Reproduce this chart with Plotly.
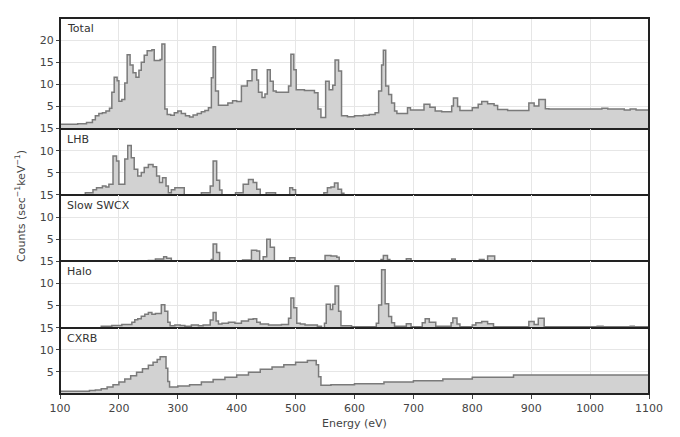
import plotly.graph_objects as go
from plotly.subplots import make_subplots

# ---- data: step histograms (left bin edges, value in each bin) ----
total_edges = [100, 130, 145, 155, 160, 166, 172, 178, 184, 188, 192, 197, 200, 205, 210, 214, 219, 224,
               229, 234, 238, 243, 248, 256, 260, 270, 273, 278, 282, 288, 294, 300, 306, 313, 320, 326,
               333, 340, 346, 352, 357, 360, 364, 369, 385, 393, 400, 408, 418, 426, 434, 437, 443, 448,
               452, 457, 462, 467, 488, 492, 497, 501, 515, 532, 538, 543, 551, 557, 563, 567, 573, 578,
               588, 600, 615, 625, 635, 641, 646, 649, 653, 658, 663, 668, 672, 690, 695, 718, 728, 737,
               748, 765, 768, 775, 779, 800, 810, 816, 826, 837, 843, 860, 896, 905, 913, 924, 930, 1020,
               1030, 1058, 1068, 1078]
total_vals = [1.0, 1.1, 1.4, 2.0, 2.9, 3.4, 3.6, 4.0, 4.6, 8.2, 11.6, 10.8, 6.2, 6.6, 10.3, 16.7, 14.4, 12.6,
              11.6, 13.2, 15.0, 16.6, 17.6, 17.8, 15.4, 15.6, 19.1, 4.4, 3.2, 3.0, 3.6, 4.0, 3.4, 2.9, 2.6, 3.1,
              3.4, 3.8, 4.1, 4.7, 11.5, 18.5, 8.5, 5.3, 5.8, 6.3, 6.1, 9.6, 10.8, 13.3, 11.0, 8.2, 7.0, 7.8,
              13.3, 10.7, 8.5, 8.2, 9.6, 16.8, 13.3, 8.8, 8.6, 8.1, 4.4, 2.5, 10.7, 8.8, 9.8, 15.5, 13.0, 2.9,
              2.7, 2.9, 3.0, 3.2, 3.6, 8.5, 14.4, 17.7, 9.6, 7.7, 5.8, 4.0, 3.4, 4.7, 4.2, 5.5, 4.8, 4.0,
              3.8, 5.1, 6.9, 5.0, 4.1, 4.7, 5.5, 6.1, 5.6, 5.2, 4.3, 4.1, 5.8, 5.1, 6.6, 4.5, 4.4, 4.6,
              4.4, 4.2, 4.4, 4.2]

lhb_edges = [100, 143, 156, 162, 172, 178, 183, 190, 196, 200, 210, 215, 221, 226, 232, 238, 243, 250, 258,
             264, 269, 274, 280, 284, 289, 295, 311, 340, 355, 360, 366, 371, 375, 398, 411, 420, 428, 434,
             440, 450, 466, 490, 495, 500, 548, 554, 560, 566, 572, 578, 582]
lhb_vals = [0, 0.5, 1.2, 1.6, 2.0, 1.8, 2.4, 8.8, 7.7, 2.4, 8.1, 11.2, 8.4, 5.8, 4.3, 5.1, 6.2, 6.9, 6.4,
            4.3, 2.8, 3.9, 2.0, 0.5, 1.2, 1.6, 0, 0.5, 2.0, 7.7, 3.3, 1.1, 0, 0.5, 2.4, 3.5, 2.8, 1.3,
            0, 0.5, 0, 1.6, 1.2, 0, 0.5, 1.6, 1.8, 2.7, 1.3, 0.4, 0]

swcx_edges = [100, 250, 262, 276, 281, 289, 357, 360, 366, 371, 410, 425, 434, 439, 445, 451, 457, 464,
              490, 499, 550, 560, 570, 574, 645, 649, 656, 660, 688, 696, 765, 771, 812, 820, 826, 838]
swcx_vals = [0, 0.2, 0.5, 1.0, 0.7, 0, 0.4, 3.9, 2.0, 0, 0.3, 2.5, 2.3, 0, 1.0, 5.0, 3.2, 0,
             0.8, 0, 1.3, 1.2, 0.9, 0, 0.4, 1.3, 0.4, 0, 0.6, 0, 0.5, 0, 0.4, 0, 1.2, 0]

halo_edges = [100, 170, 188, 205, 222, 227, 232, 238, 244, 250, 256, 262, 272, 278, 283, 287, 295, 304,
              312, 323, 335, 343, 355, 360, 365, 369, 375, 386, 397, 408, 420, 428, 434, 440, 454, 476,
              488, 492, 497, 502, 508, 516, 537, 544, 549, 552, 559, 563, 567, 573, 577, 595, 637, 641,
              646, 652, 658, 663, 668, 688, 696, 715, 720, 727, 738, 764, 767, 774, 779, 800, 806, 816,
              826, 836, 896, 905, 912, 922, 1012, 1022, 1068, 1075]
halo_vals = [0, 0.3, 0.5, 0.7, 1.2, 1.8, 2.0, 2.6, 3.0, 3.4, 3.0, 3.2, 5.2, 3.7, 1.2, 0.4, 0.6, 0.5,
             0.3, 0.6, 0.4, 0.6, 1.7, 3.4, 1.5, 0.8, 1.0, 1.2, 1.0, 1.5, 1.9, 2.0, 1.2, 0.8, 0.6, 0.7,
             2.1, 6.7, 4.5, 1.0, 0.8, 0.6, 0.3, 0, 1.0, 5.3, 4.1, 5.3, 9.4, 3.7, 0.4, 0.2, 1.0, 5.1,
             13.1, 5.4, 2.5, 1.1, 0.3, 0.9, 0.2, 1.1, 2.0, 1.2, 0.3, 1.1, 2.2, 0.8, 0.2, 0.6, 1.1, 1.4,
             0.9, 0.2, 1.4, 0.7, 2.1, 0.2, 0.3, 0.2, 0.3, 0.2]

cxrb_edges = [100, 130, 150, 160, 170, 180, 190, 200, 210, 220, 230, 240, 250, 258, 265, 270, 280, 283,
              286, 300, 320, 340, 360, 380, 400, 420, 440, 460, 480, 500, 520, 535, 539, 543, 560, 600,
              650, 700, 750, 800, 870]
cxrb_vals = [0.6, 0.65, 0.8, 0.9, 1.2, 1.6, 2.1, 2.7, 3.4, 4.1, 4.9, 5.7, 6.5, 7.2, 7.8, 8.4, 5.8, 2.8,
             1.6, 1.8, 2.1, 2.7, 3.3, 3.8, 4.3, 4.9, 5.6, 6.1, 6.6, 7.2, 7.6, 6.6, 3.9, 2.0, 2.1, 2.3,
             2.7, 3.0, 3.4, 3.8, 4.3]

panel_names = ["Total", "LHB", "Slow SWCX", "Halo", "CXRB"]
panel_edges = [total_edges, lhb_edges, swcx_edges, halo_edges, cxrb_edges]
panel_vals = [total_vals, lhb_vals, swcx_vals, halo_vals, cxrb_vals]
panel_ymax = [25, 15, 15, 15, 15]
panel_ticks = [[5, 10, 15, 20], [5, 10, 15], [5, 10, 15], [5, 10, 15], [5, 10, 15]]
x_ticks = [100, 200, 300, 400, 500, 600, 700, 800, 900, 1000, 1100]
X_MAX = 1100

fig = make_subplots(rows=5, cols=1, shared_xaxes=True, vertical_spacing=0,
                    row_heights=panel_ymax)

FONT = "DejaVu Sans"
for i, (name, edges, vals) in enumerate(zip(panel_names, panel_edges, panel_vals)):
    xs = list(edges) + [X_MAX]
    ys = list(vals) + [vals[-1]]
    fig.add_trace(go.Scatter(x=xs, y=ys, mode="lines", line_shape="hv",
                             line=dict(color="#7a7a7a", width=1.5),
                             fill="tozeroy", fillcolor="#d2d2d2",
                             showlegend=False, hoverinfo="skip"),
                  row=i + 1, col=1)
    fig.update_yaxes(range=[0, panel_ymax[i]], tickvals=panel_ticks[i],
                     showgrid=True, gridcolor="#e6e6e6", gridwidth=1,
                     showline=True, mirror=True, linecolor="#222", linewidth=1,
                     ticks="outside", ticklen=3, tickcolor="#444",
                     tickfont=dict(family=FONT, size=11, color="#444"),
                     zeroline=False, row=i + 1, col=1)
    fig.update_xaxes(range=[100, 1100], tickvals=x_ticks,
                     showgrid=True, gridcolor="#e6e6e6", gridwidth=1,
                     showline=True, mirror=True, linecolor="#222", linewidth=1,
                     zeroline=False, showticklabels=(i == 4),
                     ticks="outside" if i == 4 else "", ticklen=4, tickcolor="#444",
                     tickfont=dict(family=FONT, size=11, color="#444"),
                     row=i + 1, col=1)
    axname = "" if i == 0 else str(i + 1)
    fig.add_annotation(text=name, xref=f"x{axname} domain", yref=f"y{axname} domain",
                       x=0, y=1, xanchor="left", yanchor="top", xshift=5, yshift=-2,
                       showarrow=False, font=dict(family=FONT, size=11, color="#333"))

# outer frame
fig.add_shape(type="rect", xref="paper", yref="paper", x0=0, x1=1, y0=0, y1=1,
              line=dict(color="#222", width=2), fillcolor="rgba(0,0,0,0)", layer="above")

fig.add_annotation(text="Counts (sec<sup>\u22121</sup>keV<sup>\u22121</sup>)", textangle=-90,
                   xref="paper", yref="paper", x=-0.068, y=0.5, xanchor="center", yanchor="middle",
                   showarrow=False, font=dict(family=FONT, size=11, color="#444"))
fig.add_annotation(text="Energy (eV)", xref="paper", yref="paper", x=0.5, y=0, yshift=-21,
                   xanchor="center", yanchor="top",
                   showarrow=False, font=dict(family=FONT, size=11, color="#444"))

fig.update_layout(width=680, height=437, margin=dict(l=60, r=31, t=12, b=43),
                  paper_bgcolor="white", plot_bgcolor="white",
                  font=dict(family=FONT, size=11, color="#444"))

fig.write_html("out.html")
